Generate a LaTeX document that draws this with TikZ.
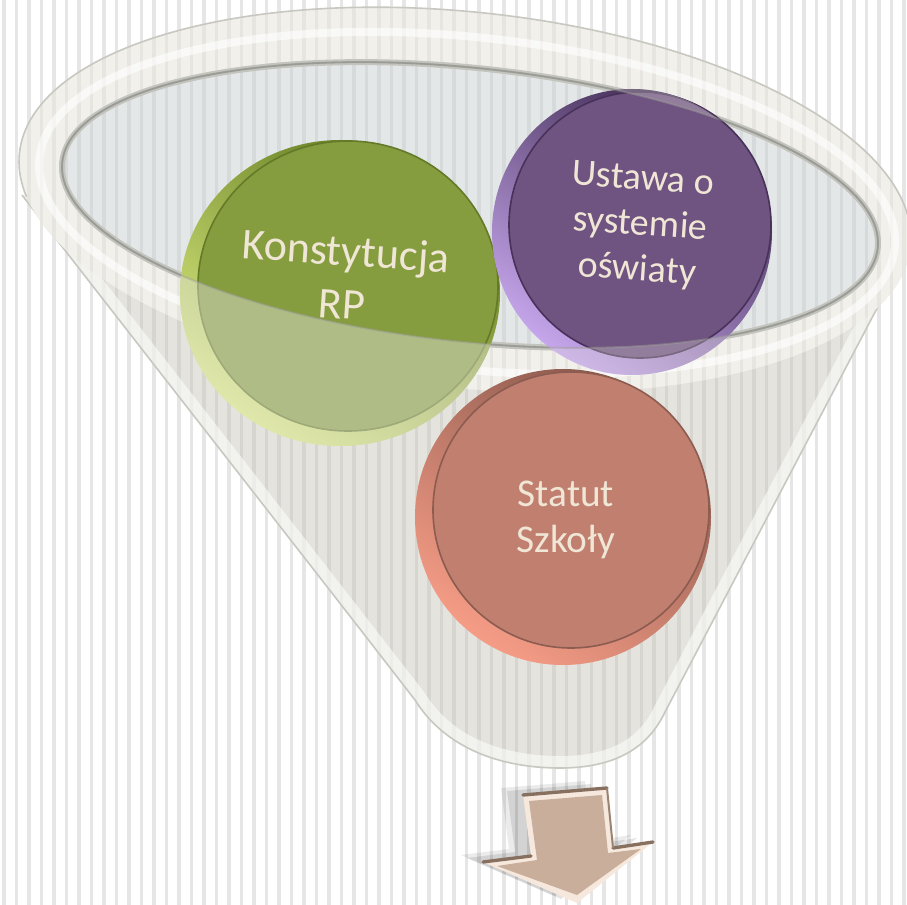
\documentclass[tikz,border=0pt]{standalone}
\usepackage{fontspec}
\setmainfont{Carlito}
\definecolor{stripeC}{RGB}{230,230,230}
\definecolor{bodyC}{RGB}{228,227,221}
\definecolor{bodyS}{RGB}{214,213,207}
\definecolor{bodyL}{RGB}{200,200,193}
\definecolor{rimC}{RGB}{241,240,235}
\definecolor{rimS}{RGB}{230,229,224}
\definecolor{innC}{RGB}{228,231,231}
\definecolor{innS}{RGB}{214,218,219}
\definecolor{innL}{RGB}{196,196,191}
\definecolor{innD}{RGB}{155,155,150}
\definecolor{gDark}{RGB}{95,120,30}
\definecolor{gLight}{RGB}{220,236,128}
\definecolor{gFace}{RGB}{133,157,62}
\definecolor{gEdge}{RGB}{100,122,40}
\definecolor{pDark}{RGB}{60,40,78}
\definecolor{pLight}{RGB}{198,166,236}
\definecolor{pFace}{RGB}{111,83,128}
\definecolor{pEdge}{RGB}{72,50,90}
\definecolor{sDark}{RGB}{135,88,76}
\definecolor{sLight}{RGB}{246,156,134}
\definecolor{sFace}{RGB}{193,127,111}
\definecolor{sEdge}{RGB}{140,92,80}
\definecolor{washC}{RGB}{228,227,221}
\definecolor{txtC}{RGB}{240,230,214}
\definecolor{arrC}{RGB}{201,174,156}
\definecolor{arrL}{RGB}{246,232,220}
\definecolor{arrD}{RGB}{135,112,96}
\tikzset{
  lbl/.style={text=txtC, align=center, inner sep=0pt},
  stripeline/.style={line width=2.6pt},
}
\newcommand{\mystripes}[1]{\foreach \i in {0,...,72} {\draw[stripeline,#1] ({4+12.5*\i},0) -- ({4+12.5*\i},905);}}
\def\outerE{(465,200) circle [x radius=448, y radius=188, rotate=-6]}
\def\innerE{(470,205) circle [x radius=410, y radius=137, rotate=-6]}
\def\cone{(22,195) .. controls (150,360) and (330,590) .. (415,700) .. controls (445,748) and (500,768) .. (560,768) .. controls (615,768) and (648,748) .. (665,712) -- (905,255) -- cycle}
\def\coneedge{(22,195) .. controls (150,360) and (330,590) .. (415,700) .. controls (445,748) and (500,768) .. (560,768) .. controls (615,768) and (648,748) .. (665,712) -- (905,255)}
\def\gRim{(340,293) circle [x radius=160, y radius=153]}
\def\pRim{(632,232) circle [x radius=140, y radius=143]}
\begin{document}
\begin{tikzpicture}[x=0.75pt,y=-0.75pt]
\useasboundingbox (0,0) rectangle (907,905);
% background
\fill[white] (0,0) rectangle (907,905);
\mystripes{stripeC}
% funnel body
\fill[bodyC] \cone;
\fill[bodyC] \outerE;
\begin{scope}
  \clip \cone;
  \mystripes{bodyS}
  \draw[white, opacity=0.55, line width=18pt] \coneedge;
\end{scope}
\begin{scope}
  \clip \outerE;
  \mystripes{bodyS}
\end{scope}
\draw[bodyL, line width=1.2pt] \coneedge;
% rim
\fill[rimC, even odd rule] \outerE \innerE;
\begin{scope}[even odd rule]
  \clip \outerE \innerE;
  \mystripes{rimS}
  \draw[white, line width=6pt, opacity=0.6] (467,203) circle [x radius=430, y radius=166, rotate=-6];
\end{scope}
\begin{scope}
  \clip (0,0) -- (907,0) -- (907,255) -- (0,195) -- cycle;
  \draw[bodyL, line width=1.2pt] \outerE;
\end{scope}
% opening
\fill[innC] \innerE;
\begin{scope}
  \clip \innerE;
  \mystripes{innS}
\end{scope}
\draw[innL, line width=4.5pt] \innerE;
\draw[innD, line width=1.2pt] \innerE;
% green disc
\shade[shading=axis, top color=gDark, bottom color=gLight, shading angle=-35] \gRim;
\fill[gFace] (348,286) circle [x radius=150, y radius=145];
\draw[gEdge, line width=1.2pt] (348,286) circle [x radius=150, y radius=145];
% purple disc
\shade[shading=axis, top color=pDark, bottom color=pLight, shading angle=-35] \pRim;
\fill[pFace] (640,225) circle [x radius=131, y radius=133];
\draw[pEdge, line width=1.2pt] (640,225) circle [x radius=131, y radius=133];
% front wash
\begin{scope}
  \clip \gRim;
  \fill[washC, opacity=0.45, even odd rule] (0,0) rectangle (907,905) \innerE;
\end{scope}
\begin{scope}
  \clip \pRim;
  \fill[washC, opacity=0.3, even odd rule] (0,0) rectangle (907,905) \innerE;
\end{scope}
\draw[innD, line width=1.5pt, opacity=0.45] \innerE;
% salmon disc
\shade[shading=axis, top color=sDark, bottom color=sLight, shading angle=-35] (563,517) circle [radius=148];
\fill[sFace] (571,510) circle [radius=138];
\draw[sEdge, line width=1.2pt] (571,510) circle [radius=138];
% labels
\node[lbl, font=\fontsize{33}{40}\selectfont, rotate=-4] (kon) at (344,277) {Konstytucja\\RP};
\node[lbl, font=\fontsize{28.5}{34}\selectfont, rotate=-4] (ust) at (640,226) {Ustawa o\\systemie\\oświaty};
\node[lbl, font=\fontsize{29.5}{34}\selectfont] (stat) at (566,520) {Statut\\Szkoły};
% arrow
\coordinate (aA) at (523,795);
\coordinate (aB) at (607,788);
\coordinate (aC) at (613,848);
\coordinate (aD) at (653,842);
\coordinate (aE) at (577,903);
\coordinate (aF) at (483,862);
\coordinate (aG) at (531,856);
\fill[black, opacity=0.10] ([shift={(-16,-4)}]aA) -- ([shift={(-16,-4)}]aB) -- ([shift={(-16,-4)}]aC) -- ([shift={(-16,-4)}]aD) -- ([shift={(-16,-4)}]aE) -- ([shift={(-16,-4)}]aF) -- ([shift={(-16,-4)}]aG) -- cycle;
\fill[black, opacity=0.08] ([shift={(-22,-7)}]aA) -- ([shift={(-22,-7)}]aB) -- ([shift={(-22,-7)}]aC) -- ([shift={(-22,-7)}]aD) -- ([shift={(-22,-7)}]aE) -- ([shift={(-22,-7)}]aF) -- ([shift={(-22,-7)}]aG) -- cycle;
\fill[arrL] (aA) -- (aB) -- (aC) -- (aD) -- (aE) -- (aF) -- (aG) -- cycle;
\fill[arrC] (529,801) -- (602,795) -- (608,853) -- (641,849) -- (577,895) -- (497,866) -- (537,860) -- cycle;
\draw[arrD, line width=2.5pt, line cap=round] (aA) -- (aB);
\draw[arrD, line width=2.5pt, line cap=round] (aF) -- (aG);
\draw[arrD, line width=2.5pt, line cap=round] (aC) -- (aD);
\draw[arrD!70!arrC, line width=1.5pt] (aB) -- (aC);
\end{tikzpicture}
\end{document}
